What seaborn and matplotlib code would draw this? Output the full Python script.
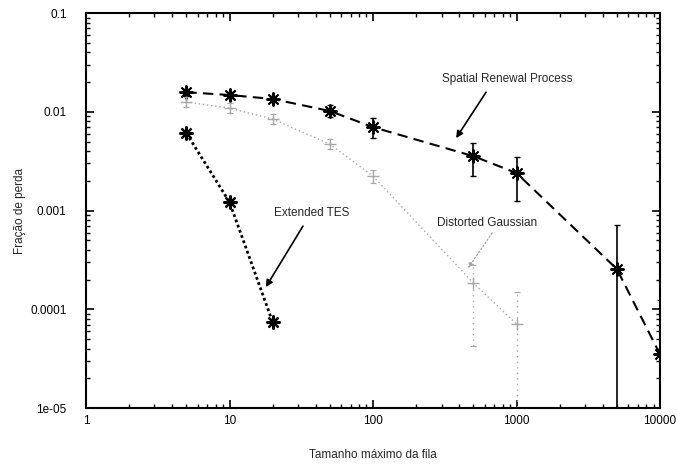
import matplotlib
matplotlib.use("Agg")
import matplotlib.pyplot as plt
import seaborn as sns
import pandas as pd

# Loss fraction vs. maximum queue size for three traffic models
srp_x = [5, 10, 20, 50, 100, 500, 1000, 5000, 10000]
srp_y = [0.0158, 0.0148, 0.0135, 0.0102, 0.0070, 0.00356, 0.0024, 0.000256, 3.5e-5]
srp_lo = [0.0145, 0.0138, 0.0126, 0.0088, 0.0054, 0.00223, 0.00125, 1e-6, 1e-6]
srp_hi = [0.0172, 0.0160, 0.0146, 0.0117, 0.0087, 0.00483, 0.00348, 0.000713, 0.000124]

dg_x = [5, 10, 20, 50, 100, 500, 1000]
dg_y = [0.0126, 0.0109, 0.00845, 0.00471, 0.00223, 0.000185, 7.1e-5]
dg_lo = [0.0112, 0.0097, 0.0075, 0.0042, 0.0019, 4.3e-5, 1e-6]
dg_hi = [0.0142, 0.0124, 0.0096, 0.0053, 0.0026, 0.00028, 0.00015]

etes_x = [5, 10, 20]
etes_y = [0.0061, 0.00122, 7.4e-5]

x_ticks = [1, 10, 100, 1000, 10000]
x_tick_labels = ["1", "10", "100", "1000", "10000"]
y_ticks = [1e-5, 1e-4, 1e-3, 1e-2, 1e-1]
y_tick_labels = ["1e-05", "0.0001", "0.001", "0.01", "0.1"]

sns.set_style("ticks")
plt.rcParams["font.family"] = ["Liberation Sans", "DejaVu Sans"]

fig = plt.figure(figsize=(6.77, 4.67), dpi=100)
ax = fig.add_axes([0.127, 0.126, 0.848, 0.846])

srp = pd.DataFrame({"x": srp_x, "y": srp_y})
dg = pd.DataFrame({"x": dg_x, "y": dg_y})
etes = pd.DataFrame({"x": etes_x, "y": etes_y})

asterisk = (8, 2, 0)
grey = "#a8a8a8"

# Spatial Renewal Process: dashed black with error bars
ax.errorbar(srp_x, srp_y,
            yerr=[[y - l for y, l in zip(srp_y, srp_lo)],
                  [h - y for y, h in zip(srp_y, srp_hi)]],
            fmt="none", ecolor="black", elinewidth=1.2, capsize=2.5, capthick=1.0)
sns.lineplot(data=srp, x="x", y="y", ax=ax, color="black", lw=1.5,
             linestyle=(0, (5, 3)), marker=asterisk, markersize=10,
             markeredgewidth=1.4, markeredgecolor="black")

# Distorted Gaussian: light grey dotted with dotted error bars
eb = ax.errorbar(dg_x, dg_y,
                 yerr=[[y - l for y, l in zip(dg_y, dg_lo)],
                       [h - y for y, h in zip(dg_y, dg_hi)]],
                 fmt="none", ecolor=grey, elinewidth=1.0, capsize=2, capthick=0.8)
for coll in eb[2]:
    coll.set_linestyle((0, (1, 3)))
sns.lineplot(data=dg, x="x", y="y", ax=ax, color=grey, lw=1.0,
             linestyle=(0, (1, 2)), marker="+", markersize=9,
             markeredgewidth=1.0, markeredgecolor=grey)

# Extended TES: dense dotted black
sns.lineplot(data=etes, x="x", y="y", ax=ax, color="black", lw=2.0,
             linestyle=(0, (1, 1)), marker=asterisk, markersize=10,
             markeredgewidth=1.6, markeredgecolor="black")

ax.set_xscale("log")
ax.set_yscale("log")
ax.set_xlim(1, 10000)
ax.set_ylim(1e-5, 0.1)
ax.set_xticks(x_ticks)
ax.set_xticklabels(x_tick_labels)
ax.set_yticks(y_ticks)
ax.set_yticklabels(y_tick_labels)
ax.tick_params(which="both", direction="in", top=True, right=True,
               labelsize=8.5, colors="black")
ax.tick_params(axis="x", which="both", pad=5)
ax.tick_params(axis="y", which="both", pad=14)
ax.tick_params(which="major", length=6, width=1.2)
ax.tick_params(which="minor", length=3, width=1.0)
for s in ax.spines.values():
    s.set_linewidth(1.5)
    s.set_color("black")

ax.set_xlabel("Tamanho máximo da fila", fontsize=8.5, labelpad=16)
ax.set_ylabel("Fração de perda", fontsize=8.5, labelpad=3)

# Curve annotations
ax.text(859, 0.0215, "Spatial Renewal Process", fontsize=8.5, ha="center", va="center")
ax.annotate("", xy=(379, 0.00542), xytext=(613, 0.0158),
            arrowprops=dict(arrowstyle="-|>", color="black", lw=1.2,
                            mutation_scale=10, shrinkA=0, shrinkB=0))

ax.text(623, 0.000746, "Distorted Gaussian", fontsize=8.5, ha="center", va="center")
ax.annotate("", xy=(459, 0.000262), xytext=(675, 0.000592),
            arrowprops=dict(arrowstyle="-|>", color=grey, lw=1.0,
                            linestyle=":", mutation_scale=8, shrinkA=0, shrinkB=0))

ax.text(37.6, 0.000944, "Extended TES", fontsize=8.5, ha="center", va="center")
ax.annotate("", xy=(17.9, 0.000168), xytext=(32.5, 0.000697),
            arrowprops=dict(arrowstyle="-|>", color="black", lw=1.2,
                            mutation_scale=10, shrinkA=0, shrinkB=0))

if ax.get_legend() is not None:
    ax.get_legend().remove()

fig.savefig("out.png", dpi=100)
